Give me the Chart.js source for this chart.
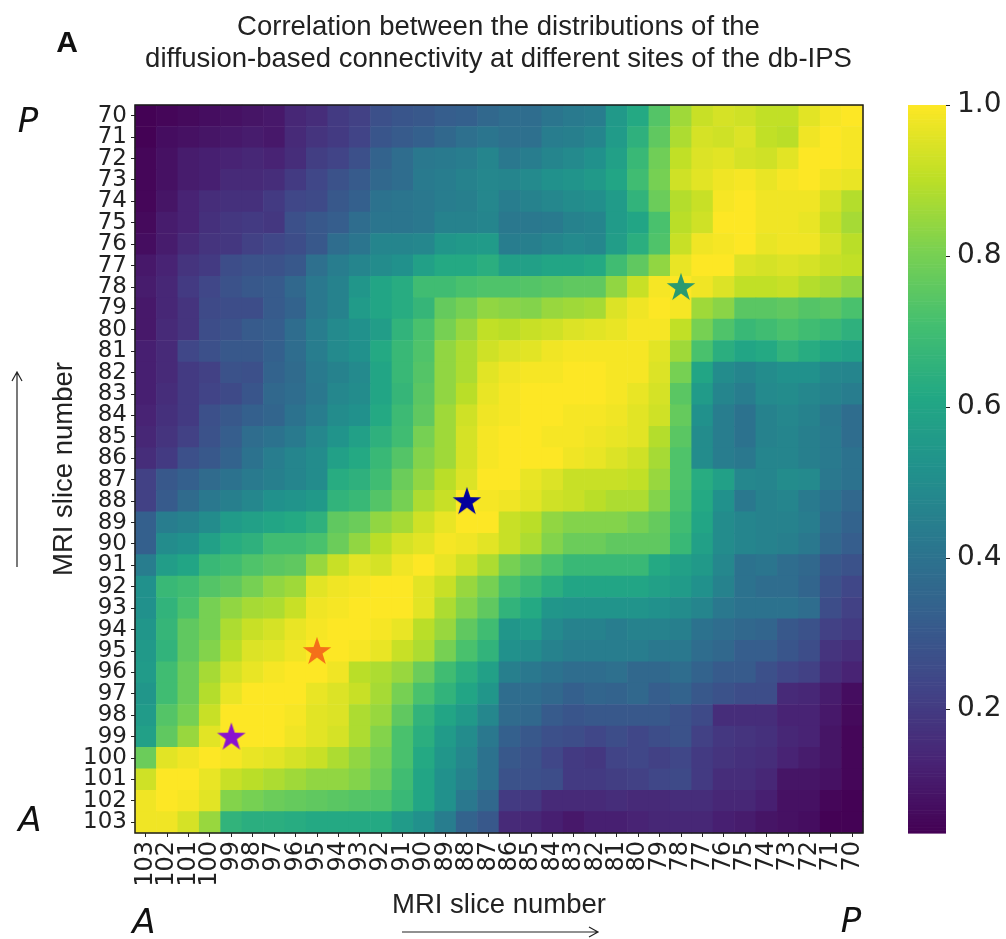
<!DOCTYPE html>
<html><head><meta charset="utf-8">
<style>html,body{margin:0;padding:0;background:#fff}canvas{display:block}</style>
<script src="https://cdn.jsdelivr.net/npm/chart.js@4/dist/chart.umd.min.js"></script>
</head><body><canvas id="c" width="1006" height="939"></canvas>
<script>
const xLabels=['103','102','101','100','99','98','97','96','95','94','93','92','91','90','89','88','87','86','85','84','83','82','81','80','79','78','77','76','75','74','73','72','71','70'];
const yLabels=['70','71','72','73','74','75','76','77','78','79','80','81','82','83','84','85','86','87','88','89','90','91','92','93','94','95','96','97','98','99','100','101','102','103'];
const values=[
[.04,.05,.06,.07,.08,.09,.1,.14,.16,.2,.22,.27,.29,.3,.32,.33,.36,.38,.38,.41,.43,.44,.55,.62,.74,.86,.92,.94,.93,.91,.91,.96,.99,1],
[.04,.07,.08,.09,.1,.11,.1,.15,.18,.2,.23,.29,.31,.33,.36,.39,.41,.39,.39,.44,.45,.47,.56,.65,.76,.88,.94,.93,.95,.91,.9,.98,1,.99],
[.05,.08,.11,.12,.13,.14,.13,.16,.21,.23,.27,.34,.38,.42,.43,.44,.47,.42,.44,.47,.49,.52,.58,.68,.79,.91,.95,.96,.94,.93,.96,1,1,.99],
[.05,.08,.11,.12,.15,.15,.16,.2,.24,.28,.31,.36,.38,.43,.44,.46,.48,.47,.49,.52,.53,.55,.6,.7,.8,.93,.96,.98,.99,.97,.99,1,.98,.97],
[.05,.09,.13,.16,.17,.17,.2,.24,.25,.3,.33,.4,.41,.42,.44,.45,.48,.44,.46,.48,.5,.51,.56,.66,.78,.89,.92,.99,1,.98,.98,.98,.94,.89],
[.06,.11,.13,.17,.19,.2,.19,.27,.3,.32,.38,.41,.41,.42,.46,.46,.47,.42,.42,.43,.46,.47,.56,.6,.72,.9,.93,1,1,.98,.98,.97,.92,.87],
[.07,.11,.15,.18,.19,.22,.24,.26,.3,.38,.41,.47,.47,.48,.54,.55,.56,.44,.45,.47,.49,.48,.57,.64,.73,.92,.98,.99,1,.97,.98,.98,.94,.9],
[.1,.13,.18,.2,.26,.28,.28,.3,.39,.44,.47,.5,.52,.58,.62,.62,.64,.58,.58,.6,.6,.62,.7,.76,.84,.97,1,1,.95,.94,.95,.94,.92,.91],
[.11,.14,.2,.24,.28,.3,.31,.36,.42,.46,.54,.6,.63,.7,.7,.72,.73,.73,.74,.75,.76,.76,.84,.92,.99,1,.98,.95,.91,.91,.92,.89,.87,.84],
[.1,.14,.18,.25,.26,.26,.31,.34,.42,.46,.56,.6,.63,.67,.77,.8,.84,.83,.82,.85,.86,.87,.95,.98,1,.99,.86,.83,.75,.75,.76,.74,.75,.72],
[.1,.15,.18,.26,.28,.31,.32,.38,.44,.49,.52,.57,.66,.72,.8,.85,.91,.9,.92,.93,.95,.96,.97,.99,.99,.91,.8,.73,.68,.7,.72,.7,.68,.65],
[.12,.15,.24,.27,.3,.3,.33,.38,.44,.49,.52,.62,.68,.73,.84,.88,.93,.95,.96,.98,.99,.99,.99,.99,.96,.86,.72,.64,.6,.62,.66,.63,.6,.58],
[.12,.15,.2,.22,.28,.27,.34,.37,.43,.46,.49,.6,.68,.74,.84,.88,.96,.98,.99,.99,1,1,.99,.99,.95,.8,.6,.5,.47,.5,.52,.52,.48,.47],
[.12,.16,.2,.23,.25,.29,.36,.38,.42,.48,.5,.6,.67,.75,.84,.9,.97,.99,1,1,1,1,.99,.97,.94,.75,.56,.47,.44,.49,.5,.48,.46,.44],
[.13,.17,.2,.27,.3,.33,.35,.4,.44,.5,.52,.62,.69,.76,.86,.93,.98,.99,1,1,.99,.99,.98,.96,.93,.77,.52,.44,.4,.46,.48,.46,.42,.38],
[.14,.18,.22,.28,.32,.38,.4,.43,.48,.53,.58,.65,.7,.8,.86,.94,.99,1,1,.99,.99,.98,.97,.96,.89,.75,.5,.44,.4,.46,.47,.45,.43,.38],
[.16,.2,.27,.3,.34,.4,.44,.47,.5,.58,.62,.68,.74,.82,.86,.94,.99,1,1,1,.98,.97,.95,.93,.87,.73,.5,.44,.42,.47,.47,.45,.43,.4],
[.22,.3,.33,.37,.4,.43,.45,.47,.5,.63,.65,.7,.78,.84,.9,.95,1,1,.97,.95,.92,.92,.92,.91,.85,.73,.63,.58,.48,.47,.5,.49,.42,.4],
[.22,.31,.37,.42,.45,.48,.52,.53,.55,.66,.68,.74,.8,.88,.92,1,.99,.98,.96,.93,.92,.9,.88,.88,.82,.72,.62,.52,.42,.46,.47,.43,.4,.36],
[.33,.44,.46,.5,.56,.58,.6,.62,.65,.76,.78,.84,.87,.93,.97,1,1,.92,.9,.84,.82,.82,.82,.8,.77,.7,.6,.5,.47,.46,.46,.44,.38,.34],
[.33,.5,.52,.58,.63,.65,.7,.7,.72,.78,.84,.9,.94,.96,.99,.98,.96,.92,.88,.82,.78,.78,.76,.76,.76,.68,.58,.5,.47,.46,.45,.42,.36,.32],
[.44,.57,.6,.68,.7,.73,.75,.76,.85,.92,.96,.94,.98,1,.97,.93,.88,.8,.76,.72,.68,.68,.68,.68,.62,.58,.55,.48,.4,.41,.38,.36,.3,.28],
[.52,.68,.7,.74,.76,.8,.84,.86,.96,.98,.99,1,1,.96,.92,.85,.8,.72,.68,.64,.6,.6,.6,.6,.58,.56,.52,.46,.4,.38,.38,.35,.28,.24],
[.52,.66,.72,.8,.84,.87,.88,.92,.98,.99,1,1,1,.96,.88,.82,.76,.66,.62,.54,.53,.53,.53,.53,.52,.5,.47,.42,.4,.4,.4,.38,.26,.22],
[.54,.67,.76,.8,.88,.92,.94,.97,.99,1,1,.99,.97,.9,.85,.76,.7,.54,.56,.49,.46,.46,.44,.46,.46,.45,.4,.38,.36,.35,.3,.28,.22,.2],
[.55,.66,.76,.82,.9,.95,.96,.98,1,1,.99,.97,.92,.88,.8,.72,.66,.52,.5,.46,.44,.44,.44,.44,.42,.42,.38,.36,.32,.32,.29,.26,.18,.16],
[.56,.7,.78,.87,.94,.97,.99,1,1,.98,.9,.88,.85,.78,.7,.64,.58,.45,.42,.4,.38,.38,.39,.36,.36,.38,.34,.31,.31,.27,.24,.22,.16,.13],
[.54,.7,.78,.89,.97,1,1,1,.97,.95,.92,.87,.8,.72,.66,.6,.54,.38,.38,.36,.33,.35,.34,.36,.32,.34,.3,.28,.26,.26,.15,.14,.11,.07],
[.56,.74,.8,.92,1,1,1,.99,.96,.95,.88,.85,.76,.66,.6,.55,.48,.37,.36,.31,.29,.3,.3,.3,.3,.28,.25,.16,.16,.16,.13,.13,.1,.06],
[.58,.76,.85,.96,1,1,1,.98,.96,.94,.88,.82,.72,.64,.56,.5,.42,.33,.3,.27,.26,.24,.26,.24,.26,.28,.22,.19,.18,.17,.14,.13,.09,.05],
[.78,.96,.98,1,.99,.97,.96,.94,.92,.88,.84,.8,.72,.62,.54,.48,.4,.3,.28,.24,.2,.19,.23,.24,.22,.24,.2,.18,.17,.16,.13,.11,.09,.05],
[.93,1,1,.97,.92,.9,.88,.86,.84,.84,.82,.78,.7,.6,.52,.46,.4,.28,.27,.26,.2,.2,.21,.22,.24,.25,.2,.16,.16,.14,.09,.09,.08,.05],
[.98,1,.99,.96,.82,.8,.78,.77,.76,.75,.74,.73,.68,.6,.52,.42,.36,.2,.19,.15,.15,.15,.16,.15,.15,.16,.16,.14,.14,.12,.08,.08,.05,.04],
[.98,.98,.94,.85,.66,.64,.64,.63,.62,.62,.62,.62,.56,.52,.44,.34,.3,.15,.14,.12,.1,.12,.12,.13,.14,.14,.14,.12,.11,.09,.08,.07,.04,.04]
];
const starSites=['99','95','88','78'];
const starColors=['#8a12cf','#f4701a','#03009c','#2a9a70'];
const colorTicks=[.2,.4,.6,.8,1];
const colorMin=.036, colorMax=1;
const titleLines=['Correlation between the distributions of the','diffusion-based connectivity at different sites of the db-IPS'];
const axisTitle='MRI slice number';
const viridis=[[68,1,84],[72,36,117],[65,68,135],[53,95,141],[42,120,142],[33,145,140],[34,168,132],[68,191,112],[122,209,81],[189,223,38],[253,231,37]];

function colorOf(v){
  const t=Math.min(1,Math.max(0,(v-colorMin)/(colorMax-colorMin)))*10;
  const i=Math.min(9,Math.floor(t)),f=t-i,a=viridis[i],b=viridis[i+1];
  return `rgb(${a.map((k,n)=>Math.round(k+(b[n]-k)*f)).join(',')})`;
}
function starImage(color){
  const s=30,c=document.createElement('canvas');c.width=s;c.height=s;
  const g=c.getContext('2d');g.fillStyle=color;g.beginPath();
  for(let i=0;i<10;i++){
    const r=i%2?5.8:15,a=-Math.PI/2+i*Math.PI/5;
    g[i?'lineTo':'moveTo'](15+r*Math.cos(a),15.8+r*Math.sin(a));
  }
  g.closePath();g.fill();return c;
}
const cells=[];
values.forEach((row,r)=>row.forEach((v,c)=>cells.push({x:xLabels[c],y:yLabels[r],v})));
const starDatasets=starSites.map((s,i)=>({
  label:'site '+s,data:[{x:s,y:s}],pointStyle:starImage(starColors[i]),pointRadius:15,order:0
}));
const heatDataset={
  label:'correlation',data:cells,pointStyle:'rect',order:1,borderWidth:0,pointBorderWidth:0,
  backgroundColor:c=>colorOf(c.raw?c.raw.v:colorMin),
  pointBackgroundColor:c=>colorOf(c.raw?c.raw.v:colorMin),
  pointRadius:c=>{const a=c.chart.chartArea;return a?(a.width/34+0.6)*Math.SQRT1_2:15;}
};
const frame={
  id:'frame',
  afterLayout(ch){const s=ch.scales.cb;const w=s.right-s.left;s.left=ch.chartArea.right+83;s.right=s.left+w;},
  beforeDatasetsDraw(ch){
    const s=ch.scales.cb,g=ch.ctx,x=ch.chartArea.right+45,w=38;
    const n=256;
    for(let i=0;i<n;i++){
      const v0=colorMin+(colorMax-colorMin)*i/n,v1=colorMin+(colorMax-colorMin)*(i+1)/n;
      const y0=s.getPixelForValue(v0),y1=s.getPixelForValue(v1);
      g.fillStyle=colorOf((v0+v1)/2);g.fillRect(x,y1,w,y0-y1+.6);
    }
  },
  afterDatasetsDraw(ch){
    const g=ch.ctx,a=ch.chartArea;
    g.save();g.strokeStyle='#1c1c1c';g.lineWidth=1.5;g.strokeRect(a.left,a.top,a.width,a.height);g.restore();
  },
  afterDraw(ch){
    const g=ch.ctx;g.save();g.fillStyle='#111';g.textAlign='center';g.textBaseline='middle';
    g.font='bold 30px "Liberation Sans"';g.fillText('A',67,44);
    g.font='italic 34px "DejaVu Sans"';
    g.fillText('P',28,123);g.fillText('A',30,822);g.fillText('A',144,924);g.fillText('P',851,923);
    g.strokeStyle='#222';g.lineWidth=1.2;
    g.beginPath();g.moveTo(17,567);g.lineTo(17,373);g.moveTo(12,381);g.lineTo(17,372);g.lineTo(22,381);
    g.moveTo(402,932);g.lineTo(597,932);g.moveTo(589,927);g.lineTo(598,932);g.lineTo(589,937);g.stroke();
    g.restore();
  }
};
new Chart(document.getElementById('c'),{
  type:'scatter',
  data:{datasets:[...starDatasets,heatDataset]},
  plugins:[frame],
  options:{
    responsive:false,animation:false,events:[],
    layout:{padding:{left:0,right:9,top:0,bottom:0}},
    plugins:{
      legend:{display:false},tooltip:{enabled:false},
      title:{display:true,text:titleLines,color:'#222',font:{family:'"Liberation Sans"',size:27.5,weight:'normal',lineHeight:1.164},padding:{top:11,bottom:30}}
    },
    scales:{
      x:{type:'category',labels:xLabels,offset:true,
        afterFit(s){s.height=106;},
        grid:{drawOnChartArea:false,tickLength:4,color:'#222'},border:{display:false},
        ticks:{autoSkip:false,minRotation:90,maxRotation:90,padding:4,color:'#222',font:{family:'"DejaVu Sans"',size:24}},
        title:{display:true,text:axisTitle,color:'#222',font:{family:'"Liberation Sans"',size:27.5},padding:{bottom:17,top:0}}
      },
      y:{type:'category',labels:yLabels,offset:true,position:'left',
        afterFit(s){s.width=135;},
        grid:{drawOnChartArea:false,tickLength:4,color:'#222'},border:{display:false},
        ticks:{autoSkip:false,padding:4,color:'#222',font:{family:'"DejaVu Sans"',size:23,lineHeight:1}},
        title:{display:true,text:axisTitle,color:'#222',font:{family:'"Liberation Sans"',size:27.5},padding:{top:48,bottom:0}}
      },
      cb:{type:'linear',position:'right',min:colorMin,max:colorMax,
        afterFit(s){s.width=134;},
        afterBuildTicks(s){s.ticks=colorTicks.map(v=>({value:v}));},
        grid:{drawOnChartArea:false,tickLength:4,color:'#222'},border:{display:false},
        ticks:{padding:7,color:'#222',font:{family:'"DejaVu Sans"',size:28},callback:v=>v.toFixed(1)}
      }
    }
  }
});
</script></body></html>
